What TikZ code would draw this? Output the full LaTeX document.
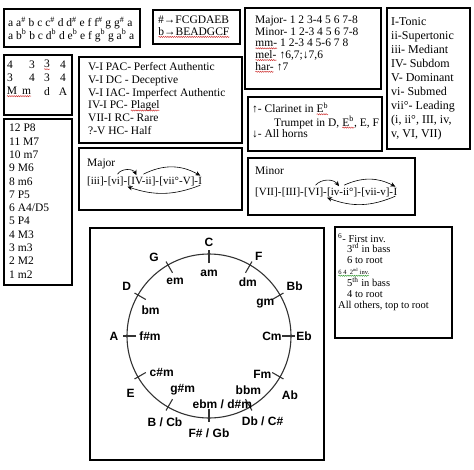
\documentclass[tikz,border=0pt]{standalone}
\usepackage{fontspec}
\setmainfont{Liberation Serif}
\newfontfamily\keyfont{Liberation Sans}
\usetikzlibrary{positioning,arrows.meta,decorations.pathmorphing}
\definecolor{sqred}{RGB}{205,45,45}
\definecolor{sqgreen}{RGB}{45,150,45}
% spell check marks
\newcommand\rsq[1]{\tikz[baseline=(w.base)]{\node[inner sep=0pt,outer sep=0pt] (w) {#1};
  \draw[sqred,line width=0.45pt,decorate,decoration={snake,amplitude=0.6pt,segment length=2.2pt}]
    ([yshift=-1.6pt]w.base west) -- ([yshift=-1.6pt]w.base east);}}
\newcommand\gsq[1]{\tikz[baseline=(w.base)]{\node[inner sep=0pt,outer sep=0pt] (w) {#1};
  \draw[sqgreen,line width=0.45pt,decorate,decoration={snake,amplitude=0.6pt,segment length=2.2pt}]
    ([yshift=-1.6pt]w.base west) -- ([yshift=-1.6pt]w.base east);}}
\newcommand\sh{\textsuperscript{\#}}
\newcommand\fl{\textsuperscript{b}}

\begin{document}
\begin{tikzpicture}[x=1pt,y=-1pt,
    frame/.style={draw=black, line width=1.1pt},
    txt/.style={anchor=north west, inner sep=0pt, align=left, font=\fontsize{11.5}{12.5}\selectfont},
    cell/.style={inner sep=0pt, font=\fontsize{11.5}{12.5}\selectfont},
    prog/.style={inner sep=0pt, font=\fontsize{11}{12}\selectfont},
    key/.style={inner sep=0pt, font=\keyfont\bfseries\fontsize{12}{12}\selectfont},
    wheel/.style={draw=black!80, line width=1.1pt},
    arr/.style={-{Stealth[length=5pt,width=4.5pt]}, line width=0.6pt},
  ]
  \useasboundingbox (0,0) rectangle (474,469);

  % boxes
  \draw[frame] (4,9) rectangle (140,47);
  \draw[frame] (153,10) rectangle (240,44);
  \draw[frame] (245,8) rectangle (381,89);
  \draw[frame] (387,8) rectangle (470,149);
  \draw[frame] (4,55) rectangle (72,115);
  \draw[frame] (79,57) rectangle (242,143);
  \draw[frame] (4,119) rectangle (72,285);
  \draw[frame] (79,148) rectangle (242,210);
  \draw[frame] (248,97) rectangle (382,151);
  \draw[frame] (248,158) rectangle (415,215);
  \draw[frame] (335,227) rectangle (452,338);
  \draw[frame, line width=1.3pt] (90,228) rectangle (324,460);

  % texts
  \node[txt] (notes) at (8,17) {a a\sh{} b c c\sh{} d d\sh{} e f f\sh{} g g\sh{} a\\
    a b\fl{} b c d\fl{} d e\fl{} e f g\fl{} g a\fl{} a};
  \node[txt, font=\fontsize{11.5}{12}\selectfont] (keys) at (158,15.5) {\#→FCGDAEB\\ \rsq{b→BEADGCF}};
  \node[txt, font=\fontsize{11.5}{11.7}\selectfont] (scales) at (255,15.5) {Major- 1 2 3-4 5 6 7-8\\
    Minor- 1 2-3 4 5 6 7-8\\ \rsq{mm-} 1 2-3 4 5-6 7 8\\ \rsq{mel-} ↑6,7;↓7,6\\ \rsq{har-} ↑7};
  \node[txt, font=\fontsize{12}{14}\selectfont] (degrees) at (391,17) {I-Tonic\\ ii-Supertonic\\
    iii- Mediant\\ IV- Subdom\\ V- Dominant\\ vi- Submed\\ vii°- Leading\\ (i, ii°, III, iv,\\ v, VI, VII)};

  \foreach \x/\a/\b [count=\i] in {10/4/3, 32/3/4, 47/{\rsq{3}}/3, 63/4/4} {
    \node[cell] (up\i) at (\x,65) {\a};
    \node[cell] (lo\i) at (\x,78) {\b};
  }
  \node[cell] (qual1) at (19,92) {\rsq{M\hspace{5pt}m}};
  \node[cell] (qual3) at (47,92) {d};
  \node[cell] (qual4) at (63,92) {A};

  \node[txt, font=\fontsize{11.5}{12.7}\selectfont] (cad) at (88,62.5) {V-I PAC- Perfect Authentic\\
    V-I DC - Deceptive\\ V-I IAC- Imperfect Authentic\\ IV-I PC- \rsq{Plagel}\\ VII-I RC- Rare\\ ?-V HC- Half};
  \node[txt, font=\fontsize{11.5}{13.3}\selectfont] (ints) at (9,124) {12 P8\\ 11 M7\\ 10 m7\\ 9 M6\\
    8 m6\\ 7 P5\\ 6 A4/D5\\ 5 P4\\ 4 M3\\ 3 m3\\ 2 M2\\ 1 m2};
  \node[txt, font=\fontsize{11.5}{11.5}\selectfont] (trans) at (252,102.5) {↑- Clarinet in \rsq{E\fl}\\
    \hspace*{22pt}Trumpet in D, \rsq{E\fl}, E, F\\ ↓- All horns};
  \node[txt, font=\fontsize{10.5}{10.7}\selectfont] (inv) at (338,233) {\textsuperscript{6}- First inv.\\
    \hspace*{9pt}3\textsuperscript{rd} in bass\\ \hspace*{9pt}6 to root\\
    {\fontsize{6.5}{6.5}\selectfont\gsq{6 4\ \ 2\textsuperscript{nd} inv.}}\\
    \hspace*{9pt}5\textsuperscript{th} in bass\\ \hspace*{9pt}4 to root\\ All others, top to root};

  % major progression
  \node[txt] (maj) at (87,158.5) {Major};
  \node[prog, anchor=base west] (mj1) at (87,184) {[iii]-};
  \node[prog, base right=0pt of mj1] (mj2) {[vi]-};
  \node[prog, base right=0pt of mj2] (mj3) {[IV-ii]-};
  \node[prog, base right=0pt of mj3] (mj4) {[vii°-V]-};
  \node[prog, base right=0pt of mj4] (mj5) {I};
  \draw[arr] ([yshift=2pt]mj2.north) to[bend left=60] ([xshift=9pt,yshift=1pt]mj3.north west);
  \draw[arr] ([yshift=2pt]mj3.north) to[bend left=28] ([yshift=1pt]mj5.north);
  \draw[arr] ([yshift=-1pt]mj5.south) to[bend left=20] ([yshift=-1pt]mj2.south east);

  % minor progression
  \node[txt] (min) at (255,167) {Minor};
  \node[prog, anchor=base west] (mn1) at (255,195) {[VII]-};
  \node[prog, base right=0pt of mn1] (mn2) {[III]-};
  \node[prog, base right=0pt of mn2] (mn3) {[VI]-};
  \node[prog, base right=0pt of mn3] (mn4) {[iv-ii°]-};
  \node[prog, base right=0pt of mn4] (mn5) {[vii-v]-};
  \node[prog, base right=0pt of mn5] (mn6) {I};
  \draw[arr] ([yshift=2pt]mn3.north) to[bend left=50] ([xshift=12pt,yshift=1pt]mn4.north west);
  \draw[arr] ([yshift=2pt]mn4.north) to[bend left=26] ([yshift=1pt]mn6.north);
  \draw[arr] ([yshift=-1pt]mn6.south) to[bend left=22] ([yshift=-1pt]mn3.south east);

  % circle of fifths
  \coordinate (O) at (209,336);
  \draw[wheel] (O) circle[radius=82];
  \foreach \a in {0,30,...,330}
    \draw[wheel] ([shift={(\a:73)}]O) -- ([shift={(\a:86)}]O);
  \foreach \aout/\rout/\tout/\ain/\rin/\tin [count=\k] in {
      -90/94/C/-90/63/am, -58/94/F/-54/66/dm, -30/99/Bb/-30/65/gm, 0/95/Eb/0/63/Cm,
      36/100/Ab/36/66/Fm, 58/101/{Db / C\#}/54/67/bbm, 90/97/{F\# / Gb}/79/70/{ebm / d\#m},
      117/97/{B / Cb}/116/60/g\#m, 144/97/E/142/60/c\#m, 180/95/A/180/59/f\#m,
      211/96/D/204/64/bm, 235/96/G/238/64/em} {
    \node[key] (maj\k) at ([shift={(\aout:\rout)}]O) {\tout};
    \node[key] (min\k) at ([shift={(\ain:\rin)}]O) {\tin};
  }
\end{tikzpicture}
\end{document}
